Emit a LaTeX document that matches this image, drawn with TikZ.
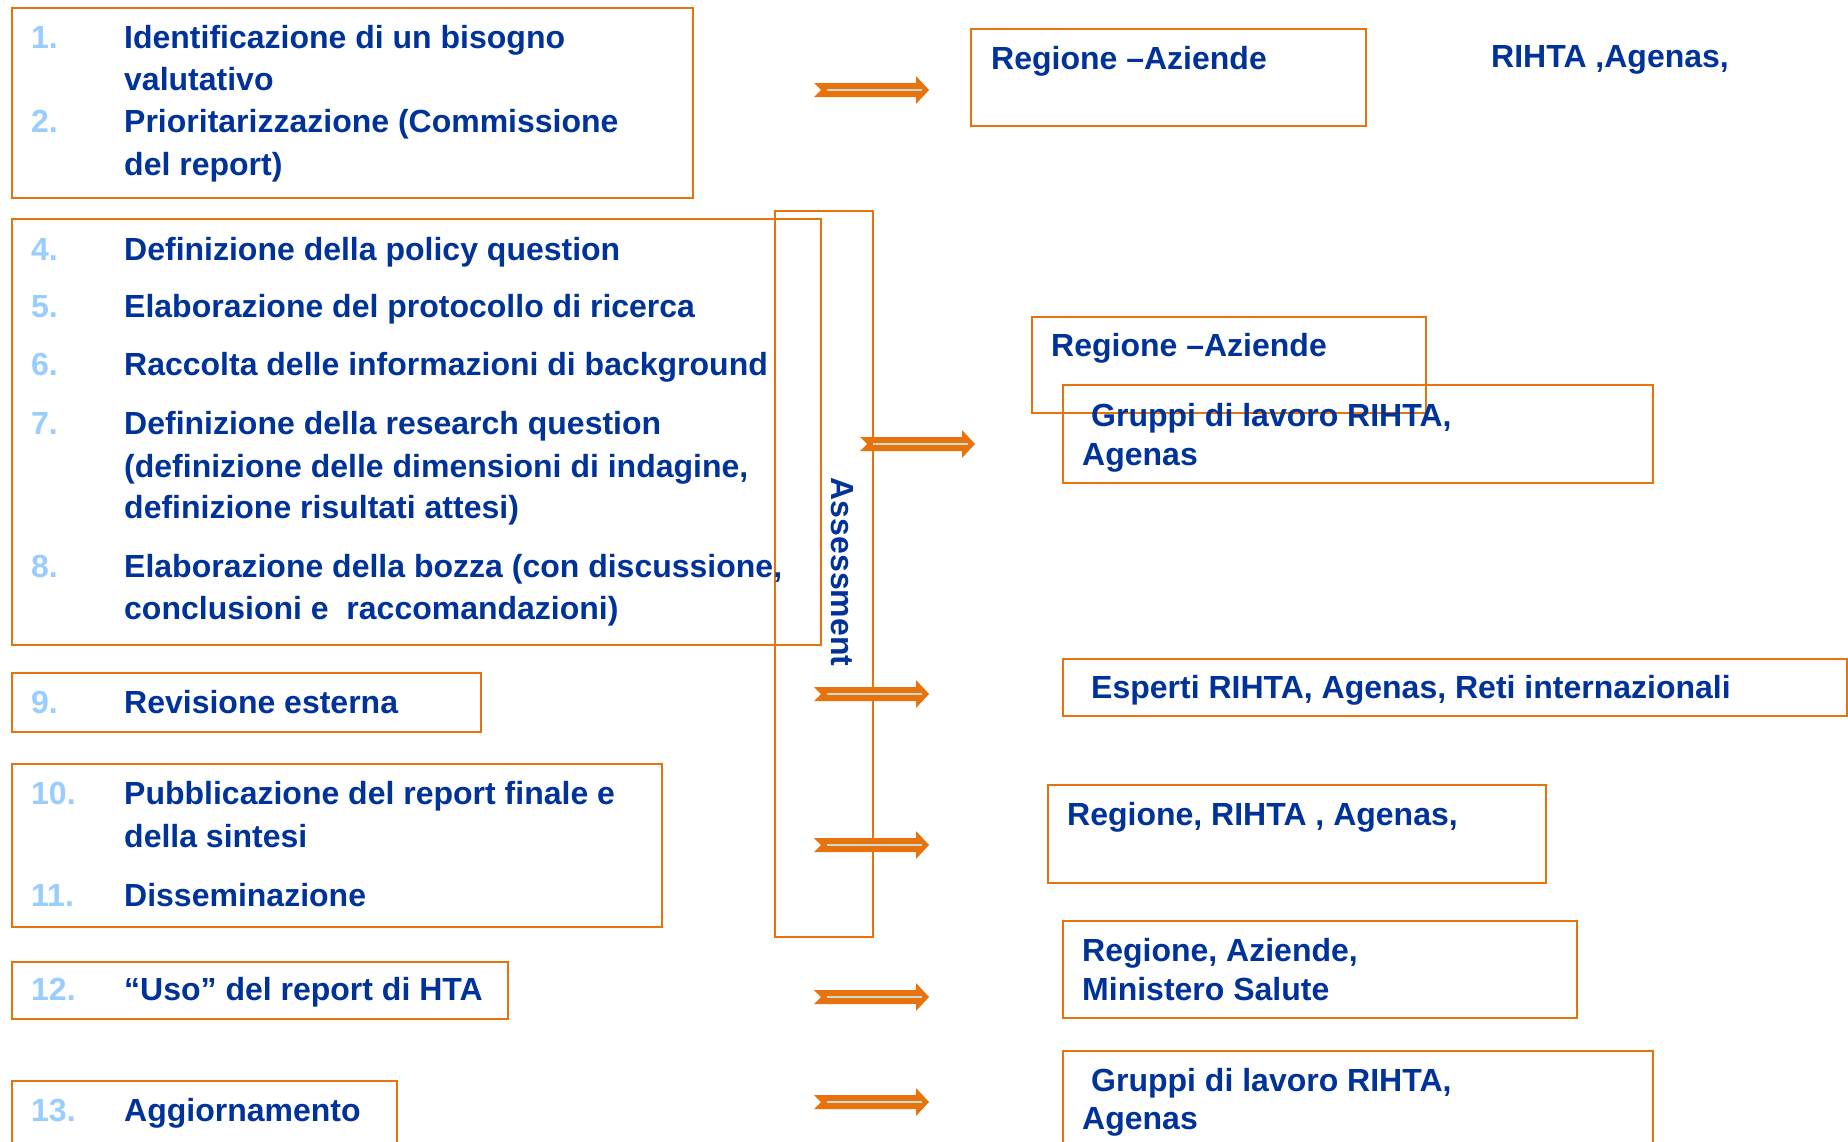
\documentclass[tikz,border=0pt]{standalone}
\usepackage{fontspec}
\setmainfont{Liberation Sans}
\definecolor{hta}{HTML}{E8730C}
\definecolor{navy}{HTML}{003399}
\definecolor{numblue}{HTML}{99CCFF}
\definecolor{arrline}{HTML}{C8DCD6}
\begin{document}
\begin{tikzpicture}[x=1pt,y=-1pt,
  obox/.style={draw=hta, line width=1.8pt, rectangle, inner sep=0pt, anchor=north west},
  lbl/.style={font=\fontsize{32}{42}\selectfont\bfseries, text=navy, inner sep=0pt, anchor=base west},
  num/.style={font=\fontsize{32}{42}\selectfont\bfseries, text=numblue, inner sep=0pt, anchor=base west},
  blockarr/.pic={
    \fill[hta] (0,-7) -- (102,-7) -- (102,-14) -- (115,0) -- (102,14) -- (102,7) -- (0,7) -- (7,0) -- cycle;
    \draw[arrline, line width=2.5pt] (13,0) -- (108,0);
  }]
\useasboundingbox (0,0) rectangle (1848,1141);
\fill[white] (0,0) rectangle (1848,1141);

% left boxes
\node[obox, minimum width=681, minimum height=190] (bA) at (11,7) {};
\node[obox, minimum width=809, minimum height=426] (bB) at (11,218) {};
\node[obox, minimum width=469, minimum height=59] (bC) at (11,672) {};
\node[obox, minimum width=650, minimum height=163] (bD) at (11,763) {};
\node[obox, minimum width=496, minimum height=57] (bE) at (11,961) {};
\node[obox, minimum width=385, minimum height=80] (bF) at (11,1080) {};
% assessment box
\node[obox, minimum width=98, minimum height=726] (asm) at (774,210) {};
% right boxes
\node[obox, minimum width=395, minimum height=97] (r1) at (970,28) {};
\node[obox, minimum width=394, minimum height=96] (r2) at (1031,316) {};
\node[obox, minimum width=590, minimum height=98] (r3) at (1062,384) {};
\node[obox, minimum width=784, minimum height=57] (r4) at (1062,658) {};
\node[obox, minimum width=498, minimum height=98] (r5) at (1047,784) {};
\node[obox, minimum width=514, minimum height=97] (r6) at (1062,920) {};
\node[obox, minimum width=590, minimum height=110] (r7) at (1062,1050) {};

% left texts
\node[num] (n1) at (31,48) {1.};
\node[lbl] (t1a) at (124,48) {Identificazione di un bisogno};
\node[lbl] (t1b) at (124,90) {valutativo};
\node[num] (n2) at (31,132) {2.};
\node[lbl] (t2a) at (124,132) {Prioritarizzazione (Commissione};
\node[lbl] (t2b) at (124,175) {del report)};

\node[num] (n4) at (31,260) {4.};
\node[lbl] (t4) at (124,260) {Definizione della policy question};
\node[num] (n5) at (31,317) {5.};
\node[lbl] (t5) at (124,317) {Elaborazione del protocollo di ricerca};
\node[num] (n6) at (31,375) {6.};
\node[lbl] (t6) at (124,375) {Raccolta delle informazioni di background};
\node[num] (n7) at (31,434) {7.};
\node[lbl] (t7a) at (124,434) {Definizione della research question};
\node[lbl] (t7b) at (124,477) {(definizione delle dimensioni di indagine,};
\node[lbl] (t7c) at (124,518) {definizione risultati attesi)};
\node[num] (n8) at (31,577) {8.};
\node[lbl] (t8a) at (124,577) {Elaborazione della bozza (con discussione,};
\node[lbl] (t8b) at (124,619) {conclusioni e\ \ raccomandazioni)};

\node[num] (n9) at (31,713) {9.};
\node[lbl] (t9) at (124,713) {Revisione esterna};

\node[num] (n10) at (31,804) {10.};
\node[lbl] (t10a) at (124,804) {Pubblicazione del report finale e};
\node[lbl] (t10b) at (124,847) {della sintesi};
\node[num] (n11) at (31,906) {11.};
\node[lbl] (t11) at (124,906) {Disseminazione};

\node[num] (n12) at (31,1000) {12.};
\node[lbl] (t12) at (124,1000) {“Uso” del report di HTA};

\node[num] (n13) at (31,1121) {13.};
\node[lbl] (t13) at (124,1121) {Aggiornamento};

% assessment label
\node[font=\fontsize{32}{42}\selectfont\bfseries, text=navy, inner sep=0pt, rotate=-90] (asmt) at (842,572) {Assessment};

% right texts
\node[lbl] (s1) at (991,69) {Regione –Aziende};
\node[lbl] (s1b) at (1491,67) {RIHTA ,Agenas,};
\node[lbl] (s2) at (1051,356) {Regione –Aziende};
\node[lbl] (s3a) at (1091,426) {Gruppi di lavoro RIHTA,};
\node[lbl] (s3b) at (1082,465) {Agenas};
\node[lbl] (s4) at (1091,698) {Esperti RIHTA, Agenas, Reti internazionali};
\node[lbl] (s5) at (1067,825) {Regione, RIHTA , Agenas,};
\node[lbl] (s6a) at (1082,961) {Regione, Aziende,};
\node[lbl] (s6b) at (1082,1000) {Ministero Salute};
\node[lbl] (s7a) at (1091,1091) {Gruppi di lavoro RIHTA,};
\node[lbl] (s7b) at (1082,1129) {Agenas};

% block arrows
\pic (a1) at (814,90) {blockarr};
\pic (a2) at (860,444) {blockarr};
\pic (a3) at (814,694) {blockarr};
\pic (a4) at (814,845) {blockarr};
\pic (a5) at (814,997) {blockarr};
\pic (a6) at (814,1102) {blockarr};
\end{tikzpicture}
\end{document}
